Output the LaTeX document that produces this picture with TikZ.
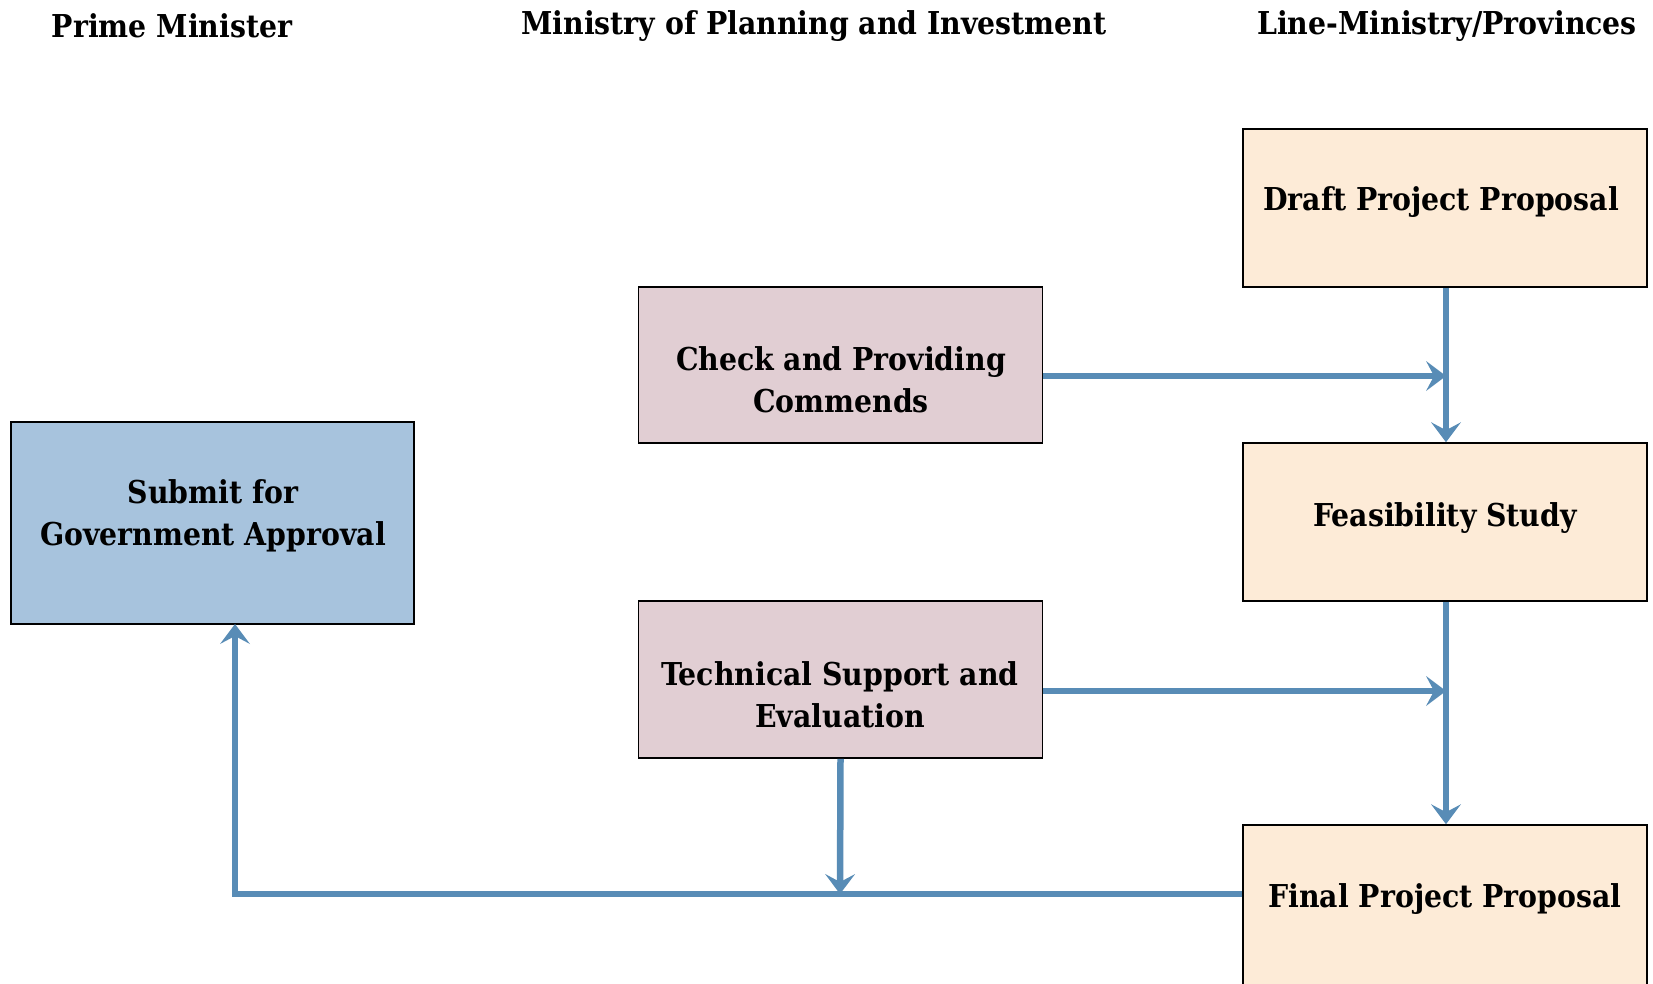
\documentclass[tikz,border=0pt]{standalone}
\usepackage{fontspec}
\setmainfont{DejaVu Serif Condensed}
\usetikzlibrary{arrows.meta}
\definecolor{peach}{RGB}{253,235,215}
\definecolor{mauve}{RGB}{225,206,211}
\definecolor{skyb}{RGB}{167,195,221}
\definecolor{arrowc}{RGB}{88,140,182}
\tikzset{
  x=1pt, y=-1pt,
  box/.style={draw=black, line width=1.6pt, rectangle, minimum width=404pt, inner sep=0pt},
  txt/.style={font=\fontsize{31.5}{42}\selectfont\bfseries, align=center, inner sep=0pt},
  head/.style={font=\fontsize{31.5}{42}\selectfont\bfseries, inner sep=0pt},
  conn/.style={draw=arrowc, line width=6.5pt},
  arr/.style={conn, -{Stealth[length=20pt,width=30pt,inset=8pt,line width=0pt]}},
}
\begin{document}
\begin{tikzpicture}
\useasboundingbox (0,0) rectangle (1653,983);
\clip (0,0) rectangle (1653,983);
\fill[white] (0,0) rectangle (1653,983);
% headers
\node[head] (h1) at (172,26) {Prime Minister};
\node[head] (h2) at (814,26) {Ministry of Planning and Investment};
\node[head] (h3) at (1447,26) {Line-Ministry/Provinces};
% boxes
\node[box, fill=peach, minimum height=158pt] (draft) at (1445,208) {};
\node[box, fill=mauve, minimum height=156pt] (check) at (840.5,365) {};
\node[box, fill=peach, minimum height=158pt] (feas) at (1445,522) {};
\node[box, fill=skyb, minimum height=202pt, minimum width=403pt] (submit) at (212.5,523) {};
\node[box, fill=mauve, minimum height=157pt] (tech) at (840.5,679.5) {};
\node[box, fill=peach, minimum height=190pt] (final) at (1445,920) {};
% texts
\node[txt] (tdraft) at (1441,202) {Draft Project Proposal};
\node[txt] (tcheck) at (841,380) {Check and Providing\\Commends};
\node[txt] (tfeas) at (1445,518) {Feasibility Study};
\node[txt] (tsubmit) at (213,516) {Submit for\\Government Approval};
\node[txt] (ttech) at (840,695) {Technical Support and\\Evaluation};
\node[txt] (tfinal) at (1445,899) {Final Project Proposal};
% connector end points
\coordinate (c1) at (1446,376);
\coordinate (c2) at (1446,691);
\coordinate (c3) at (840,894);
\coordinate (c4) at (235,894);
\coordinate (c5) at (235,624);
% connectors
\draw[arr] (draft.south -| c1) -- (feas.north -| c1);
\draw[arr] (feas.south -| c1) -- (final.north -| c1);
\draw[arr] (check.east |- c1) -- (c1);
\draw[arr] (tech.east |- c2) -- (c2);
\draw[conn] (final.west |- c3) -- (c4) -- ([yshift=-12pt]c5);
\draw[arr] (c4) -- (c5);
\draw[arr] (tech.south) -- (c3);
\end{tikzpicture}
\end{document}
